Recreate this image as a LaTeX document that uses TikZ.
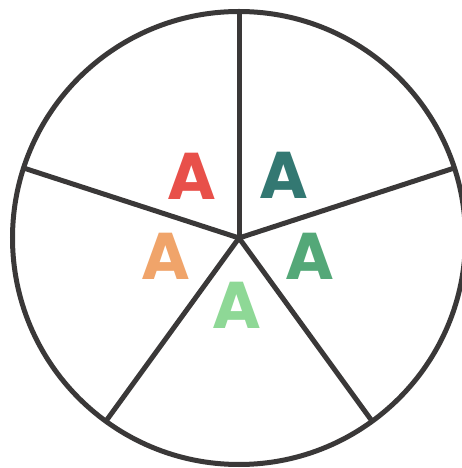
\documentclass[tikz,border=0pt]{standalone}
\usepackage{fontspec}
\newfontfamily\pop{Poppins}
\usetikzlibrary{calc}
\definecolor{linegray}{RGB}{58,56,56}
\definecolor{cred}{RGB}{232,80,74}
\definecolor{cteal}{RGB}{51,120,114}
\definecolor{corange}{RGB}{240,164,106}
\definecolor{cgreen}{RGB}{84,168,120}
\definecolor{clight}{RGB}{142,216,150}
\tikzset{
  rim/.style={draw=linegray,line width=5pt},
  spoke/.style={draw=linegray,line width=5pt,line cap=butt},
  letter/.style={font=\pop\bfseries\fontsize{66}{66}\selectfont,inner sep=0pt}
}
\begin{document}
\begin{tikzpicture}[x=1pt,y=1pt]
\useasboundingbox (0,0) rectangle (461,468);
\fill[white] (0,0) rectangle (461,468);
\coordinate (c) at (239,230);
\node[rim,circle,minimum size=453pt,inner sep=0pt] (rimc) at (c) {};
\foreach \a/\n in {90/p1,18/p2,-54/p3,-126/p4,162/p5}{
  \coordinate (\n) at ($(c)+(\a:226.5)$);
  \draw[spoke] (c) -- (\n);
}
\fill[linegray] (c) circle (2.5pt);
\node[letter,text=cred] (a1) at (192,292) {A};
\node[letter,text=cteal] (a2) at (284,293) {A};
\node[letter,text=corange] (a3) at (166,212) {A};
\node[letter,text=cgreen] (a4) at (310,212) {A};
\node[letter,text=clight] (a5) at (237,163) {A};
\end{tikzpicture}
\end{document}
